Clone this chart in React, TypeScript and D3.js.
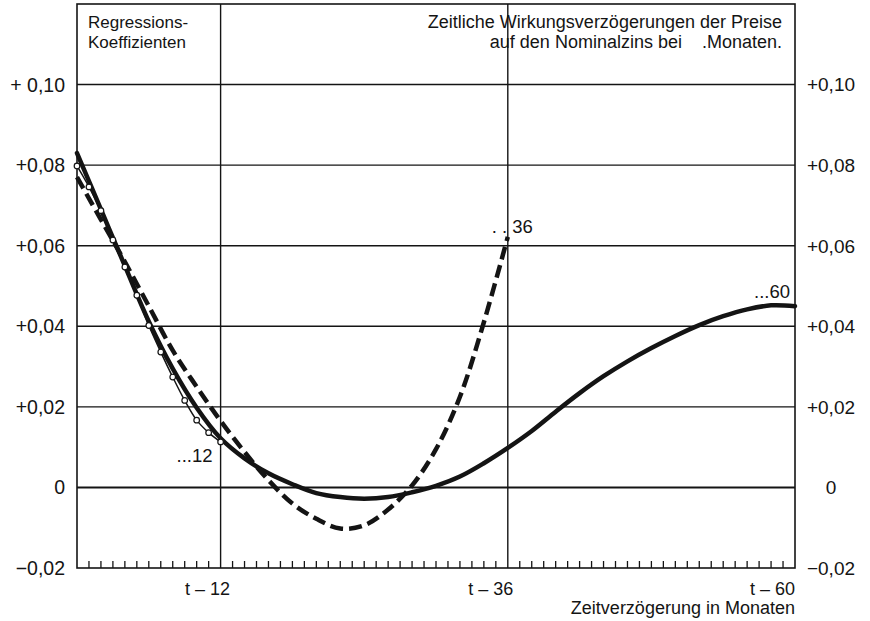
import React from 'react';
import * as d3 from 'd3';

// Monate und Koeffizienten
const months12 = [0, 1, 2, 3, 4, 5, 6, 7, 8, 9, 10, 11, 12];
const values12 = [0.0798, 0.0746, 0.0687, 0.0614, 0.0547, 0.0477, 0.0402, 0.0336, 0.0274, 0.0216, 0.0167, 0.0136, 0.0113];

const months36 = [0, 2, 4, 6, 8, 10, 12, 14, 16, 18, 20, 22, 24, 26, 28, 30, 32, 34, 36];
const values36 = [0.077, 0.0665, 0.056, 0.045, 0.034, 0.025, 0.0165, 0.0088, 0.0018, -0.004, -0.0078, -0.0102, -0.0094, -0.0055, 0.0005, 0.0095, 0.0225, 0.041, 0.0622];

const months60 = [0, 2, 4, 6, 8, 10, 12, 14, 16, 18, 20, 22, 24, 26, 28, 30, 32, 34, 36, 38, 40, 42, 44, 46, 48, 50, 52, 54, 56, 58, 60];
const values60 = [0.083, 0.069, 0.055, 0.0412, 0.0295, 0.0198, 0.0122, 0.0072, 0.0035, 0.0008, -0.0014, -0.0024, -0.0028, -0.0024, -0.0012, 0.0004, 0.0027, 0.006, 0.0098, 0.014, 0.0188, 0.0234, 0.0276, 0.0313, 0.0346, 0.0376, 0.0403, 0.0425, 0.0442, 0.0452, 0.045];

const yTicks = [-0.02, 0, 0.02, 0.04, 0.06, 0.08, 0.1];
const leftLabels = ['\u22120,02', '0', '+0,02', '+0,04', '+0,06', '+0,08', '+ 0,10'];
const rightLabels = ['\u22120,02', '0', '+0,02', '+0,04', '+0,06', '+0,08', '+0,10'];
const xGrid = [12, 36];
const xLabels = ['t \u2013 12', 't \u2013 36', 't \u2013 60'];

const W = 870, H = 621;
const FONT = '"Liberation Sans", Arial, Helvetica, sans-serif';
const INK = '#141414';

export default function App() {
  const x = d3.scaleLinear().domain([0, 60]).range([77, 795]);
  const y = d3.scaleLinear().domain([-0.02, 0.12]).range([568, 4]);

  const line = d3.line<[number, number]>()
    .x(d => x(d[0]))
    .y(d => y(d[1]))
    .curve(d3.curveCatmullRom.alpha(0.5));

  const pts12 = months12.map((m, i) => [m, values12[i]] as [number, number]);
  const pts36 = months36.map((m, i) => [m, values36[i]] as [number, number]);
  const pts60 = months60.map((m, i) => [m, values60[i]] as [number, number]);

  const minorTicks = d3.range(1, 60).filter(m => !xGrid.includes(m));

  return (
    <svg width={W} height={H} style={{ position: 'absolute', left: 0, top: 0, background: '#fff' }}
      fontFamily={FONT} fill={INK}>
      <rect x={0} y={0} width={W} height={H} fill="#fff" />

      {/* Gitter */}
      {yTicks.filter(v => v > -0.02).map(v => (
        <line key={v} x1={x(0)} x2={x(60)} y1={y(v)} y2={y(v)} stroke={INK} strokeWidth={v === 0 ? 2 : 1.4} />
      ))}
      {xGrid.map(m => (
        <line key={m} x1={x(m)} x2={x(m)} y1={y(0.12)} y2={y(-0.02)} stroke={INK} strokeWidth={1.4} />
      ))}
      {minorTicks.map(m => (
        <line key={m} x1={x(m)} x2={x(m)} y1={y(-0.02)} y2={y(-0.02) - 7} stroke={INK} strokeWidth={1.3} />
      ))}
      <rect x={x(0)} y={y(0.12)} width={x(60) - x(0)} height={y(-0.02) - y(0.12)} fill="none" stroke={INK} strokeWidth={1.6} />

      {/* Achsenbeschriftung */}
      {yTicks.map((v, i) => (
        <text key={'l' + v} x={65} y={y(v)} dy="0.36em" textAnchor="end" fontSize={19.5}>{leftLabels[i]}</text>
      ))}
      {yTicks.map((v, i) => (
        <text key={'r' + v} x={831} y={y(v)} dy="0.36em" textAnchor="middle" fontSize={19}>{rightLabels[i]}</text>
      ))}
      <text x={x(12) - 13} y={595} textAnchor="middle" fontSize={18}>{xLabels[0]}</text>
      <text x={x(36) - 17} y={595} textAnchor="middle" fontSize={18}>{xLabels[1]}</text>
      <text x={x(60)} y={595} textAnchor="end" fontSize={18}>{xLabels[2]}</text>
      <text x={x(60)} y={614} textAnchor="end" fontSize={18}>Zeitverzögerung in Monaten</text>

      <text x={88} y={28} fontSize={17}>Regressions-</text>
      <text x={88} y={48} fontSize={17}>Koeffizienten</text>
      <text x={782} y={28} textAnchor="end" fontSize={18}>Zeitliche Wirkungsverzögerungen der Preise</text>
      <text x={782} y={48} textAnchor="end" fontSize={18} style={{ whiteSpace: 'pre' }}>auf den Nominalzins bei    .Monaten.</text>

      {/* Kurven */}
      <path d={line(pts60) ?? ''} fill="none" stroke={INK} strokeWidth={4.5} strokeLinecap="round" />
      <path d={line(pts36) ?? ''} fill="none" stroke={INK} strokeWidth={4.5} strokeDasharray="13 6" />
      <path d={line(pts12) ?? ''} fill="none" stroke={INK} strokeWidth={1.5} />
      {pts12.map(d => (
        <circle key={d[0]} cx={x(d[0])} cy={y(d[1])} r={2.8} fill="#fff" stroke={INK} strokeWidth={1.2} />
      ))}

      <text x={x(12) - 8} y={y(values12[12]) + 20} textAnchor="end" fontSize={18.5}>...12</text>
      <text x={x(36) + 25} y={y(values36[values36.length - 1]) - 4} textAnchor="end" fontSize={18.5}>. . 36</text>
      <text x={x(60) - 5} y={y(values60[values60.length - 1]) - 8} textAnchor="end" fontSize={18.5}>...60</text>
    </svg>
  );
}
